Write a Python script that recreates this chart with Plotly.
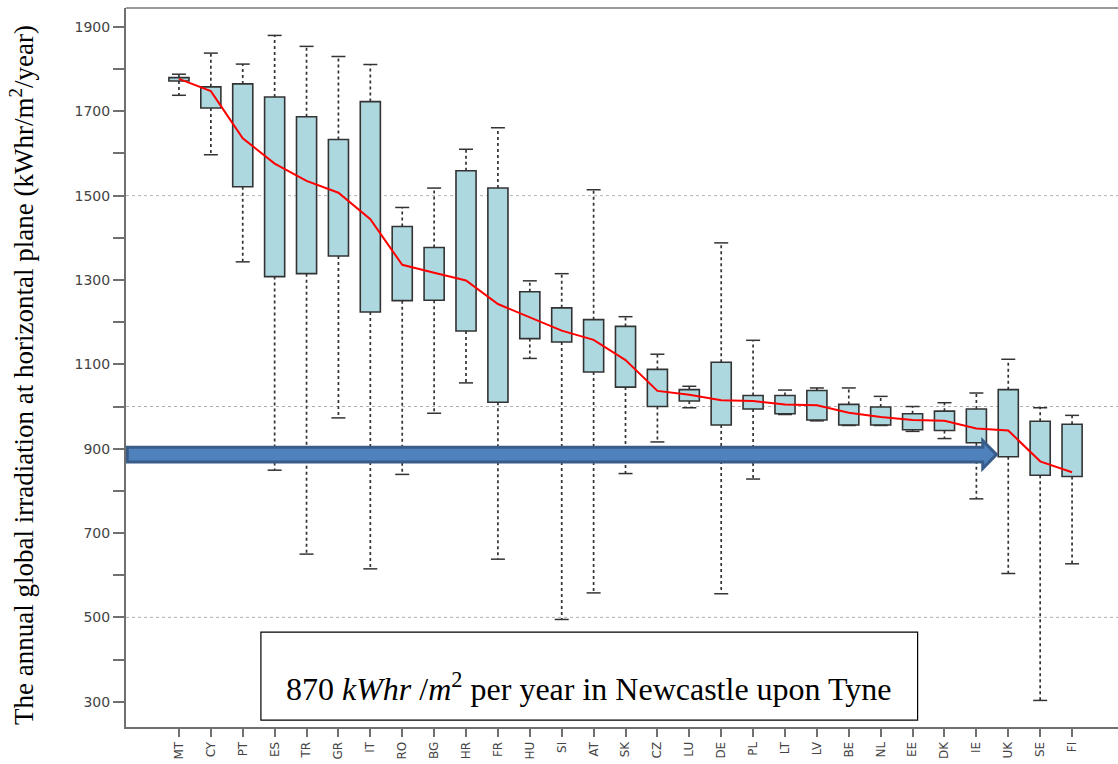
import plotly.graph_objects as go

countries = ["MT", "CY", "PT", "ES", "TR", "GR", "IT", "RO", "BG", "HR", "FR", "HU", "SI", "AT", "SK",
             "CZ", "LU", "DE", "PL", "LT", "LV", "BE", "NL", "EE", "DK", "IE", "UK", "SE", "FI"]
upper = [1788, 1838, 1812, 1880, 1854, 1830, 1811, 1472, 1518, 1610, 1661, 1298, 1315, 1514, 1213,
         1124, 1048, 1388, 1157, 1039, 1044, 1044, 1024, 1000, 1009, 1032, 1112, 997, 979]
q3 = [1780, 1758, 1765, 1734, 1687, 1633, 1723, 1427, 1377, 1559, 1518, 1272, 1234, 1206, 1190,
      1088, 1040, 1105, 1026, 1026, 1038, 1005, 999, 983, 989, 994, 1040, 965, 958]
q1 = [1772, 1708, 1521, 1308, 1315, 1357, 1224, 1251, 1252, 1179, 1010, 1161, 1153, 1082, 1046,
      1000, 1013, 956, 994, 983, 968, 956, 956, 945, 943, 914, 881, 837, 834]
lower = [1738, 1597, 1343, 849, 650, 973, 615, 839, 984, 1056, 638, 1114, 495, 558, 841,
         916, 997, 556, 828, 981, 966, 955, 955, 941, 924, 781, 604, 303, 627]
central = [1777, 1748, 1636, 1576, 1535, 1507, 1444, 1336, 1317, 1299, 1243, 1211, 1180, 1158, 1110,
           1037, 1028, 1015, 1013, 1005, 1003, 985, 975, 968, 966, 948, 943, 870, 844]
ytick_labels = [300, 500, 700, 900, 1100, 1300, 1500, 1700, 1900]
grid_values = [500, 1000, 1500]

idx = list(range(len(countries)))

BOX_FILL = "#ADD8E0"
DARK = "#333333"

fig = go.Figure()

# whiskers
wx, wy = [], []
for i in idx:
    wx += [i, i, None, i, i, None]
    wy += [q3[i], upper[i], None, q1[i], lower[i], None]
fig.add_trace(go.Scatter(x=wx, y=wy, mode="lines",
                         line=dict(color=DARK, width=1.7, dash="3px,3px"),
                         hoverinfo="skip"))

# boxes
fig.add_trace(go.Bar(x=idx, y=[q3[i] - q1[i] for i in idx], base=q1, width=0.63,
                     marker=dict(color=BOX_FILL, line=dict(color=DARK, width=1.6))))

# caps
fig.add_trace(go.Scatter(x=idx + idx, y=upper + lower, mode="markers",
                         marker=dict(symbol="line-ew", size=10,
                                     line=dict(color=DARK, width=1.5)),
                         hoverinfo="skip"))

# red line
fig.add_trace(go.Scatter(x=idx, y=central, mode="lines",
                         line=dict(color="#FF0000", width=2)))

shapes = []
for g in grid_values:
    shapes.append(dict(type="line", xref="paper", x0=0, x1=1, yref="y", y0=g, y1=g,
                       line=dict(color="#B0B0B0", width=1, dash="dot"), layer="below"))
# top border
shapes.append(dict(type="line", xref="paper", yref="paper", x0=0, x1=1, y0=1, y1=1,
                   line=dict(color="#9A9A9A", width=2)))

# arrow (data coordinates)
a_left, a_body_end, a_tip = -1.62, 25.20, 25.63
a_y, a_half_body, a_half_head = 886, 17.3, 33.0
path = (f"M {a_left},{a_y + a_half_body} L {a_body_end},{a_y + a_half_body} "
        f"L {a_body_end},{a_y + a_half_head} L {a_tip},{a_y} "
        f"L {a_body_end},{a_y - a_half_head} L {a_body_end},{a_y - a_half_body} "
        f"L {a_left},{a_y - a_half_body} Z")
shapes.append(dict(type="path", xref="x", yref="y", path=path,
                   fillcolor="#4F81BD", line=dict(color="#385D8A", width=3), layer="above"))

# annotation box
shapes.append(dict(type="rect", xref="paper", yref="paper",
                   x0=0.136, x1=0.798, y0=0.0097, y1=0.132,
                   fillcolor="white", line=dict(color="black", width=1.2), layer="above"))

fig.update_layout(
    width=1118, height=764,
    margin=dict(l=126, r=0, t=8, b=37),
    paper_bgcolor="white", plot_bgcolor="white",
    showlegend=False,
    shapes=shapes,
    xaxis=dict(range=[-1.66, 29.44], tickmode="array", tickvals=idx, ticktext=countries,
               tickangle=-90, ticks="outside", ticklen=8, tickcolor="#707070", tickwidth=1.5,
               showgrid=False, zeroline=False, showline=True, linecolor="#707070", linewidth=2,
               tickfont=dict(family="DejaVu Sans", size=12, color="#444444")),
    yaxis=dict(range=[240, 1945], tickmode="array", tickvals=ytick_labels,
               ticktext=[str(v) for v in ytick_labels],
               ticks="outside", ticklen=11, tickcolor="#707070", tickwidth=1.5,
               minor=dict(ticks="outside", ticklen=11, dtick=100, tick0=300,
                          tickcolor="#707070", tickwidth=1.5, showgrid=False),
               showgrid=False, zeroline=False, showline=True, linecolor="#707070", linewidth=2,
               tickfont=dict(family="DejaVu Sans", size=14, color="#444444")),
    annotations=[
        dict(text="The annual global irradiation at horizontal plane (kWhr/m<sup>2</sup>/year)",
             textangle=-90, xref="paper", yref="paper", x=-0.1048, y=0.4896,
             xanchor="center", yanchor="middle", showarrow=False,
             font=dict(family="Liberation Serif", size=27, color="black")),
        dict(text="870 <i>kWhr</i> /<i>m</i><sup>2</sup> per year in Newcastle upon Tyne",
             xref="paper", yref="paper", x=0.4672, y=0.0556,
             xanchor="center", yanchor="middle", showarrow=False,
             font=dict(family="Liberation Serif", size=32, color="black")),
    ],
)

fig.write_html("out.html")
